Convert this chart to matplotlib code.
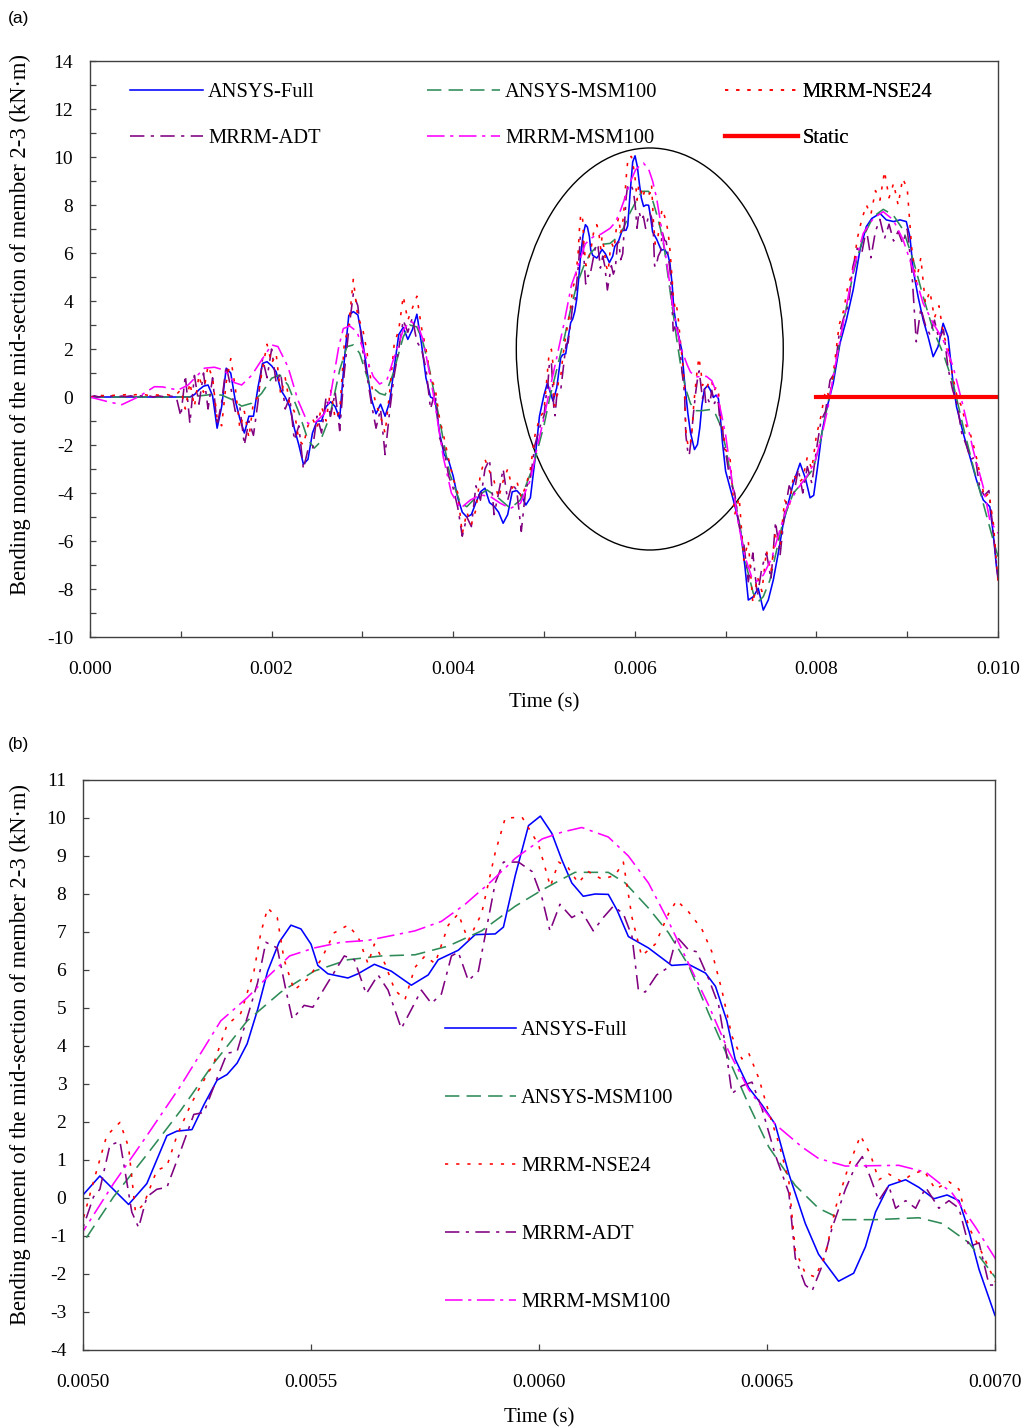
import numpy as np
import matplotlib
matplotlib.use("Agg")
import matplotlib.pyplot as plt
from matplotlib.patches import Ellipse
from matplotlib.ticker import MultipleLocator, FormatStrFormatter

plt.rcParams['font.family'] = ['Liberation Serif', 'DejaVu Serif']
plt.rcParams['axes.unicode_minus'] = False

# ---------------------------------------------------------------------------
# Bending moment histories (time in ms, moment in kN*m)
# coarse sections 0-5 ms and 7-10 ms, fine section 5-7 ms
# ---------------------------------------------------------------------------

# ANSYS-Full
full_t_early = [0.0, 0.5, 0.97]
full_m_early = [0.0, 0.0, 0.0]
full_m_grid = [0.0, 0.0, 0.0, 0.1, 0.3, 0.45, 0.5, 0.05, -1.3, -0.4,
               1.2, 1.0, -0.15, -0.9, -1.5, -0.8, -0.8, 0.4, 1.4, 1.47,
               1.3, 1.05, 0.3, 0.0, -0.4, -1.3, -2.0, -2.8, -2.6, -1.5,
               -1.0, -1.0, -0.4, -0.2, -0.4, -0.9, 1.5, 3.4, 3.56, 3.42,
               2.4, 1.1, -0.1, -0.7, -0.3, -0.8, -0.2, 1.2, 2.6, 2.9,
               2.4, 2.8, 3.45, 2.24, 0.8, 0.0, -0.1, -1.5, -2.4, -2.65,
               -3.3, -4.2, -4.8, -5.0, -4.9, -4.4, -3.95, -3.8, -4.4, -4.55,
               -4.8, -5.26, -4.9, -3.95, -3.9, -4.1, -4.5, -4.2, -2.63, -0.8]
full_t_mid = [5.000, 5.037, 5.100, 5.140, 5.184, 5.206, 5.239, 5.265, 5.294, 5.316,
              5.338, 5.360, 5.383, 5.405, 5.430, 5.456, 5.478, 5.500, 5.515, 5.537,
              5.581, 5.603, 5.639, 5.676, 5.720, 5.757, 5.779, 5.823, 5.860, 5.904,
              5.922, 5.948, 5.977, 6.003, 6.028, 6.050, 6.072, 6.097, 6.123, 6.152,
              6.171, 6.196, 6.240, 6.291, 6.328, 6.365, 6.387, 6.412, 6.430, 6.460,
              6.489, 6.518, 6.548, 6.584, 6.613, 6.657, 6.690, 6.716, 6.738, 6.767,
              6.804, 6.833, 6.866, 6.895, 6.921, 6.943, 6.965, 7.000]
full_m_mid = [0.08, 0.58, -0.17, 0.38, 1.64, 1.76, 1.80, 2.45, 3.10, 3.25,
              3.55, 4.06, 4.96, 5.97, 6.73, 7.18, 7.08, 6.68, 6.12, 5.90,
              5.79, 5.90, 6.15, 5.97, 5.60, 5.87, 6.27, 6.52, 6.93, 6.95,
              7.13, 8.49, 9.80, 10.05, 9.60, 8.90, 8.29, 7.94, 8.00, 7.99,
              7.58, 6.88, 6.58, 6.12, 6.15, 5.92, 5.57, 4.66, 3.66, 2.90,
              2.45, 1.94, 0.63, -0.67, -1.48, -2.19, -1.98, -1.28, -0.37, 0.33,
              0.48, 0.28, -0.02, 0.08, -0.07, -0.88, -1.88, -3.09]
full_t_late = [7.085, 7.158, 7.213, 7.250, 7.305, 7.360, 7.415, 7.470, 7.525, 7.580,
               7.635, 7.690, 7.745, 7.820, 7.880, 7.930, 7.970, 8.010, 8.060, 8.110,
               8.185, 8.260, 8.330, 8.405, 8.480, 8.550, 8.610, 8.700, 8.770, 8.850,
               8.920, 8.990, 9.030, 9.066, 9.120, 9.176, 9.230, 9.286, 9.340, 9.396,
               9.450, 9.506, 9.543, 9.617, 9.690, 9.763, 9.837, 9.910, 9.947, 9.983, 10.0]
full_m_late = [-4.29, -5.40, -7.07, -8.46, -8.32, -7.97, -8.88, -8.46, -7.63, -6.51,
               -5.26, -4.43, -3.60, -2.76, -3.40, -4.20, -4.10, -3.00, -1.50, -0.54,
               0.57, 2.24, 3.21, 4.46, 6.13, 7.10, 7.44, 7.65, 7.38, 7.31,
               7.38, 7.31, 6.68, 5.29, 4.18, 3.21, 2.51, 1.68, 2.10, 3.07,
               2.51, 0.57, -0.40, -1.51, -2.49, -3.46, -4.29, -4.57, -5.68, -7.07, -7.50]

# ANSYS-MSM100
msm_t = [0.0, 1.00, 1.10, 1.33, 1.45, 1.56, 1.67, 1.78, 1.89, 2.00,
         2.09, 2.18, 2.29, 2.40, 2.47, 2.53, 2.64, 2.75, 2.83, 2.90,
         2.97, 3.08, 3.19, 3.25, 3.34, 3.45, 3.52, 3.60, 3.67, 3.74,
         3.85, 3.96, 4.08, 4.15, 4.26, 4.37, 4.48, 4.63, 4.74, 4.88,
         5.000, 5.067, 5.140, 5.214, 5.287, 5.360, 5.434, 5.507, 5.581, 5.654,
         5.728, 5.801, 5.874, 5.948, 6.006, 6.050, 6.079, 6.116, 6.152, 6.189,
         6.240, 6.284, 6.328, 6.372, 6.416, 6.460, 6.504, 6.562, 6.613, 6.665,
         6.738, 6.833, 6.884, 6.943, 7.000,
         7.085, 7.158, 7.231, 7.305, 7.360, 7.415, 7.488, 7.562, 7.635, 7.745,
         7.855, 7.965, 8.038, 8.112, 8.185, 8.295, 8.405, 8.516, 8.626, 8.736,
         8.846, 8.956, 9.066, 9.176, 9.286, 9.396, 9.506, 9.617, 9.727, 9.837,
         9.947, 10.0]
msm_m = [0.0, 0.0, 0.0, 0.1, 0.08, -0.1, -0.38, -0.26, 0.15, 0.78,
         0.92, 0.5, -0.54, -1.78, -2.13, -1.9, -0.82, 1.13, 2.10, 2.17,
         1.82, 0.5, 0.15, 0.08, 0.99, 2.51, 3.0, 2.92, 2.24, 1.13,
         -0.96, -3.18, -4.43, -4.57, -4.15, -3.87, -4.15, -4.64, -4.29, -2.9,
         -1.18, 0.03, 1.14, 2.30, 3.55, 4.66, 5.42, 5.97, 6.27, 6.37,
         6.40, 6.63, 7.03, 7.68, 8.10, 8.39, 8.57, 8.57, 8.57, 8.29,
         7.63, 6.98, 6.12, 4.86, 3.66, 2.45, 1.34, 0.33, -0.27, -0.57,
         -0.57, -0.52, -0.67, -1.18, -2.08,
         -3.88, -5.40, -7.07, -8.18, -8.53, -8.32, -7.63, -6.38, -5.13, -4.01,
         -3.53, -3.00, -1.93, -0.54, 0.80, 3.07, 5.15, 6.68, 7.51, 7.82,
         7.58, 6.96, 5.71, 4.18, 2.79, 1.82, 0.57, -1.24, -2.90, -4.43,
         -5.96, -6.65]

# MRRM-NSE24 and MRRM-ADT: 0.05 ms steps on 0-5 ms and 7.05-10 ms
nse_m_early = [0.0, 0.02, 0.08, 0.05, 0.1, 0.06, 0.1, 0.08, 0.1, 0.05,
               0.1, 0.08, 0.1, 0.06, 0.1, 0.08, 0.1, 0.1, 0.05, 0.1,
               0.3, -0.5, 0.6, -0.4, 0.9, 0.2, 1.3, 0.8, -0.9, -1.2,
               0.6, 1.6, 0.4, -1.3, -0.6, -1.7, -0.2, 0.0, 1.2, 2.2,
               1.4, 1.8, 0.1, 0.8, -0.3, -0.6, -1.8, -2.0, -1.2, -0.9,
               -1.3, -0.4, -1.0, 0.3, -0.9, -0.6, 2.2, 3.0, 4.9, 3.3,
               2.9, 1.9, 0.5, -0.3, -0.8, -1.5, 0.2, 2.2, 2.8, 4.2,
               3.2, 3.7, 4.2, 2.9, 2.0, 0.8, 0.4, -0.9, -1.7, -2.6,
               -3.4, -4.0, -5.7, -4.8, -5.3, -4.7, -3.2, -2.6, -3.1, -3.5,
               -4.2, -3.5, -3.0, -3.8, -3.5, -4.2, -3.7, -3.0, -1.6, -0.9]
nse_t_mid = [5.000, 5.023, 5.052, 5.081, 5.100, 5.115, 5.133, 5.162, 5.184, 5.206,
             5.236, 5.258, 5.287, 5.316, 5.346, 5.375, 5.390, 5.405, 5.426, 5.441,
             5.463, 5.493, 5.522, 5.551, 5.581, 5.603, 5.625, 5.639, 5.662, 5.684,
             5.706, 5.728, 5.750, 5.772, 5.801, 5.823, 5.845, 5.874, 5.904, 5.926,
             5.963, 5.999, 6.025, 6.043, 6.064, 6.086, 6.108, 6.138, 6.167, 6.185,
             6.204, 6.225, 6.255, 6.284, 6.302, 6.328, 6.357, 6.379, 6.401, 6.423,
             6.445, 6.460, 6.482, 6.504, 6.526, 6.548, 6.562, 6.584, 6.606, 6.628,
             6.650, 6.679, 6.705, 6.727, 6.745, 6.767, 6.796, 6.818, 6.844, 6.869,
             6.899, 6.921, 6.943, 6.965, 7.000]
nse_m_mid = [-0.57, 0.43, 1.64, 1.99, 1.34, -0.37, -0.17, 0.73, 0.84, 1.64,
             2.45, 2.95, 3.55, 4.56, 4.86, 5.97, 6.98, 7.63, 7.38, 6.27,
             5.47, 5.77, 6.27, 6.98, 7.18, 6.88, 6.17, 6.68, 6.17, 5.47,
             5.22, 6.07, 6.37, 6.17, 7.18, 7.48, 6.78, 7.48, 9.09, 10.00,
             10.02, 9.30, 8.20, 8.84, 8.69, 8.29, 8.59, 8.39, 8.49, 8.84,
             7.38, 6.37, 6.68, 7.48, 7.83, 7.53, 7.08, 6.48, 5.47, 4.26,
             3.66, 3.81, 3.15, 2.25, 1.44, 0.43, -1.38, -1.98, -2.08, -1.48,
             -0.27, 0.84, 1.64, 1.14, 0.48, 0.63, 0.43, 0.63, 0.73, 0.23,
             0.43, 0.23, -0.78, -1.28, -2.19]
nse_m_late = [-2.6, -4.9, -4.2, -6.8, -6.0, -8.6, -7.5, -8.1, -6.4, -7.3,
              -5.6, -6.2, -4.3, -4.6, -3.2, -3.6, -3.4, -2.5, -3.0, -1.6,
              -0.8, 0.3, 0.0, 1.4, 3.0, 3.6, 4.7, 5.2, 6.6, 7.4,
              8.0, 7.6, 8.6, 8.2, 9.4, 8.3, 8.9, 8.0, 9.1, 8.7,
              6.2, 4.8, 5.8, 3.9, 4.4, 3.3, 3.8, 2.6, 2.0, 0.9,
              0.0, -0.4, -1.2, -1.6, -2.3, -3.2, -4.2, -4.0, -5.3, -7.7]

adt_m_early = [0.0, 0.05, 0.0, 0.06, 0.02, 0.05, 0.0, 0.04, 0.02, 0.05,
               0.0, 0.05, 0.03, 0.05, 0.0, 0.05, 0.02, 0.05, 0.03, 0.0,
               -0.8, 0.9, -1.1, 0.9, -0.3, 1.0, -0.5, 0.8, -1.2, -0.2,
               1.3, 0.4, -0.6, -0.4, -2.0, -1.0, -1.6, -0.2, 1.6, 0.8,
               2.0, 0.6, 1.0, -0.5, 0.0, -1.8, -1.2, -3.0, -2.2, -2.2,
               -0.8, -1.5, 0.0, -0.8, 0.2, -1.4, 1.0, 2.8, 4.3, 3.8,
               2.0, 0.9, -0.3, -1.3, -0.5, -2.4, -0.6, 0.9, 2.0, 3.2,
               2.7, 3.3, 2.3, 2.0, 1.2, -0.5, 0.2, -1.7, -2.2, -3.3,
               -3.8, -4.6, -5.8, -5.0, -5.4, -3.7, -4.3, -3.0, -2.6, -4.9,
               -4.0, -3.0, -4.3, -3.6, -3.9, -5.6, -3.8, -3.4, -2.0, -1.3]
adt_t_mid = [5.000, 5.023, 5.037, 5.059, 5.081, 5.096, 5.107, 5.122, 5.140, 5.162,
             5.184, 5.214, 5.243, 5.265, 5.294, 5.316, 5.338, 5.368, 5.383, 5.401,
             5.426, 5.445, 5.459, 5.485, 5.504, 5.537, 5.573, 5.595, 5.621, 5.647,
             5.669, 5.698, 5.720, 5.742, 5.764, 5.786, 5.808, 5.823, 5.845, 5.867,
             5.904, 5.922, 5.955, 5.985, 6.007, 6.024, 6.046, 6.072, 6.094, 6.119,
             6.141, 6.163, 6.185, 6.204, 6.218, 6.233, 6.258, 6.284, 6.302, 6.328,
             6.346, 6.372, 6.394, 6.408, 6.423, 6.445, 6.467, 6.489, 6.518, 6.548,
             6.562, 6.584, 6.599, 6.621, 6.643, 6.672, 6.694, 6.709, 6.727, 6.745,
             6.767, 6.782, 6.804, 6.826, 6.848, 6.877, 6.899, 6.921, 6.943, 6.965,
             6.987, 7.000]
adt_m_mid = [-0.78, 0.03, 0.23, 1.39, 1.49, 0.43, -0.37, -0.78, 0.03, 0.23,
             0.28, 1.24, 2.20, 2.25, 3.15, 3.81, 3.86, 5.07, 5.67, 6.73,
             6.58, 5.47, 4.71, 5.07, 5.02, 5.67, 6.37, 6.27, 5.37, 5.87,
             5.47, 4.46, 4.96, 5.47, 5.12, 5.37, 6.37, 6.47, 5.72, 5.97,
             8.29, 8.84, 8.84, 8.59, 7.88, 7.03, 7.73, 7.38, 7.53, 7.03,
             7.38, 7.68, 7.48, 6.88, 5.47, 5.42, 5.87, 6.07, 6.88, 6.53,
             6.48, 5.77, 5.07, 4.06, 2.75, 2.95, 3.05, 2.35, 1.14, 0.13,
             -1.58, -2.29, -2.44, -1.78, -0.78, 0.23, 0.84, 1.09, 0.53, -0.07,
             0.33, -0.27, -0.07, -0.27, 0.28, -0.27, -0.07, -0.27, -1.28, -1.18,
             -2.29, -2.29]
adt_m_late = [-3.5, -4.0, -5.4, -6.1, -7.7, -6.5, -8.3, -7.1, -6.5, -7.6,
              -5.2, -6.6, -4.8, -3.7, -4.1, -3.0, -4.0, -2.9, -3.6, -2.2,
              -1.0, -0.6, 0.7, 1.0, 2.6, 3.3, 3.8, 5.4, 6.2, 6.0,
              7.0, 5.8, 6.9, 7.4, 6.6, 7.2, 6.5, 6.9, 6.4, 7.0,
              5.3, 2.3, 3.7, 3.0, 2.6, 3.2, 2.4, 2.8, 1.2, 0.3,
              -0.3, -1.5, -2.0, -2.6, -2.5, -3.8, -4.1, -3.9, -5.7, -7.6]

# MRRM-MSM100
rmsm_t = [0.0, 0.20, 0.35, 0.53, 0.71, 0.80, 0.97, 1.08, 1.26, 1.37,
          1.48, 1.59, 1.67, 1.78, 1.89, 2.00, 2.07, 2.18, 2.29, 2.40,
          2.47, 2.58, 2.64, 2.74, 2.79, 2.86, 2.94, 3.01, 3.12, 3.19,
          3.27, 3.34, 3.45, 3.52, 3.60, 3.67, 3.78, 3.89, 3.98, 4.08,
          4.19, 4.30, 4.41, 4.52, 4.63, 4.74, 4.85, 4.93,
          5.000, 5.067, 5.140, 5.214, 5.302, 5.360, 5.405, 5.453, 5.507, 5.566,
          5.625, 5.728, 5.786, 5.838, 5.896, 5.948, 6.007, 6.051, 6.094, 6.152,
          6.196, 6.240, 6.284, 6.328, 6.372, 6.416, 6.460, 6.518, 6.577, 6.613,
          6.672, 6.789, 6.848, 6.906, 6.958, 7.000,
          7.085, 7.140, 7.213, 7.286, 7.340, 7.415, 7.507, 7.598, 7.672, 7.782,
          7.892, 7.984, 8.057, 8.130, 8.185, 8.295, 8.405, 8.516, 8.626, 8.736,
          8.846, 8.956, 9.066, 9.176, 9.286, 9.396, 9.506, 9.617, 9.727, 9.837,
          9.910, 10.0]
rmsm_m = [0.0, -0.2, -0.32, 0.0, 0.43, 0.42, 0.29, 0.5, 1.2, 1.24,
          1.12, 0.6, 0.5, 0.9, 1.54, 2.17, 2.1, 1.26, -0.13, -1.1,
          -1.1, -0.7, -0.13, 2.1, 2.85, 2.96, 2.72, 1.96, 0.85, 0.54,
          0.71, 1.54, 2.79, 3.14, 3.07, 2.38, 0.15, -2.49, -4.0, -4.64,
          -4.29, -4.08, -4.15, -4.43, -4.64, -4.43, -3.46, -2.0,
          -0.88, 0.38, 1.64, 2.95, 4.66, 5.27, 5.82, 6.37, 6.58, 6.73,
          6.78, 7.03, 7.28, 7.73, 8.34, 8.94, 9.45, 9.63, 9.75, 9.50,
          9.00, 8.29, 7.28, 6.17, 5.07, 3.86, 2.85, 1.94, 1.34, 1.04,
          0.84, 0.86, 0.68, 0.13, -0.78, -1.58,
          -3.88, -5.26, -6.65, -7.49, -7.69, -7.42, -6.72, -5.54, -4.64, -3.88,
          -3.32, -2.69, -1.65, -0.40, 0.85, 3.07, 5.29, 6.82, 7.44, 7.72,
          7.38, 6.54, 5.29, 3.90, 3.07, 2.38, 1.26, -0.40, -2.21, -3.74,
          -5.13, -5.68]

# Static solution
static_t = [8.0, 10.0]
static_m = [0.0, 0.0]


def grid_ms(start, stop):
    # sampling instants of the 0.05 ms output step
    return list(np.round(np.arange(start, stop + 1e-9, 0.05), 3))


full_t = full_t_early + grid_ms(1.0, 4.95) + full_t_mid + full_t_late
full_m = full_m_early + full_m_grid + full_m_mid + full_m_late
nse_t = grid_ms(0.0, 4.95) + nse_t_mid + grid_ms(7.05, 10.0)
nse_m = nse_m_early + nse_m_mid + nse_m_late
adt_t = grid_ms(0.0, 4.95) + adt_t_mid + grid_ms(7.05, 10.0)
adt_m = adt_m_early + adt_m_mid + adt_m_late

series = [
    ('ANSYS-Full', full_t, full_m, dict(color='#0000ff', linestyle='-')),
    ('ANSYS-MSM100', msm_t, msm_m, dict(color='#2e8b57', dashes=(9, 4.5))),
    ('MRRM-NSE24', nse_t, nse_m, dict(color='#ff0000', dashes=(2, 5))),
    ('MRRM-ADT', adt_t, adt_m, dict(color='#800080', dashes=(9, 4, 2, 4))),
    ('MRRM-MSM100', rmsm_t, rmsm_m, dict(color='#ff00ff', dashes=(11, 3.5, 2, 3.5))),
]
draw_order = ['ANSYS-Full', 'ANSYS-MSM100', 'MRRM-ADT', 'MRRM-NSE24', 'MRRM-MSM100']

YLABEL = 'Bending moment of the mid-section of member 2-3 (kN\u00b7m)'
FS_TICK = 14
FS_LEG = 14.8
FS_XLAB = 15
FS_YLAB = 16.3


def style_axes(ax):
    for sp in ax.spines.values():
        sp.set_color('#404040')
        sp.set_linewidth(1.0)
    ax.tick_params(which='both', direction='in', length=4, width=0.9,
                   colors='#404040', labelcolor='black', labelsize=FS_TICK)
    ax.tick_params(axis='x', which='both', pad=17)
    ax.tick_params(axis='y', which='both', pad=12)


fig = plt.figure(figsize=(10.26, 14.28), dpi=100)

# ---------------- panel (a) ----------------
ax1 = fig.add_axes([90 / 1026, 1 - 637 / 1428, 908 / 1026, 576 / 1428])
handles = {}
for name in draw_order:
    label, t, m, kw = next(s for s in series if s[0] == name)
    ln, = ax1.plot(np.array(t) / 1000.0, m, lw=1.15, label=label, **kw)
    handles[label] = ln
st, = ax1.plot(np.array(static_t) / 1000.0, static_m, color='#ff0000', lw=3.0, label='Static')
handles['Static'] = st

ax1.add_patch(Ellipse((0.006165, 2.0), 0.00294, 16.75, fill=False,
                      edgecolor='black', lw=1.0))

ax1.set_xlim(0, 0.010)
ax1.set_ylim(-10, 14)
ax1.xaxis.set_major_locator(MultipleLocator(0.002))
ax1.xaxis.set_minor_locator(MultipleLocator(0.001))
ax1.xaxis.set_major_formatter(FormatStrFormatter('%.3f'))
ax1.yaxis.set_major_locator(MultipleLocator(2))
ax1.yaxis.set_minor_locator(MultipleLocator(1))
ax1.yaxis.set_major_formatter(FormatStrFormatter('%d'))
style_axes(ax1)
ax1.set_xlabel('Time (s)', fontsize=FS_XLAB)
ax1.set_ylabel(YLABEL, fontsize=FS_YLAB)
ax1.xaxis.set_label_coords(0.5, -0.097)
ax1.yaxis.set_label_coords(-0.065, 0.542)

cols_a = [(['ANSYS-Full', 'MRRM-ADT'], 0.044),
          (['ANSYS-MSM100', 'MRRM-MSM100'], 0.371),
          (['MRRM-NSE24', 'Static'], 0.699)]
for labels, x0 in cols_a:
    leg = ax1.legend([handles[l] for l in labels], labels, loc='upper left',
                     bbox_to_anchor=(x0, 0.962), frameon=False, fontsize=FS_LEG,
                     handlelength=3.55, handletextpad=0.25, labelspacing=1.28,
                     borderpad=0, borderaxespad=0)
    ax1.add_artist(leg)

# ---------------- panel (b) ----------------
ax2 = fig.add_axes([83 / 1026, 1 - 1350 / 1428, 912 / 1026, 570 / 1428])
handles_b = {}
for name in draw_order:
    label, t, m, kw = next(s for s in series if s[0] == name)
    ln, = ax2.plot(np.array(t) / 1000.0, m, lw=1.15, label=label, **kw)
    handles_b[label] = ln

ax2.set_xlim(0.005, 0.007)
ax2.set_ylim(-4, 11)
ax2.xaxis.set_major_locator(MultipleLocator(0.0005))
ax2.xaxis.set_major_formatter(FormatStrFormatter('%.4f'))
ax2.yaxis.set_major_locator(MultipleLocator(1))
ax2.yaxis.set_major_formatter(FormatStrFormatter('%d'))
style_axes(ax2)
ax2.set_xlabel('Time (s)', fontsize=FS_XLAB)
ax2.set_ylabel(YLABEL, fontsize=FS_YLAB)
ax2.xaxis.set_label_coords(0.5, -0.102)
ax2.yaxis.set_label_coords(-0.057, 0.519)

labels_b = [s[0] for s in series]
ax2.legend([handles_b[l] for l in labels_b], labels_b, loc='upper left',
           bbox_to_anchor=(0.397, 0.578), frameon=False, fontsize=FS_LEG,
           handlelength=3.45, handletextpad=0.25, labelspacing=2.37,
           borderpad=0, borderaxespad=0)

fig.text(8 / 1026, 1 - 18 / 1428, '(a)', fontsize=12.5, va='center',
         family=['Liberation Sans', 'DejaVu Sans'])
fig.text(8 / 1026, 1 - 745 / 1428, '(b)', fontsize=12.5, va='center',
         family=['Liberation Sans', 'DejaVu Sans'])

fig.savefig('out.png', dpi=100)
